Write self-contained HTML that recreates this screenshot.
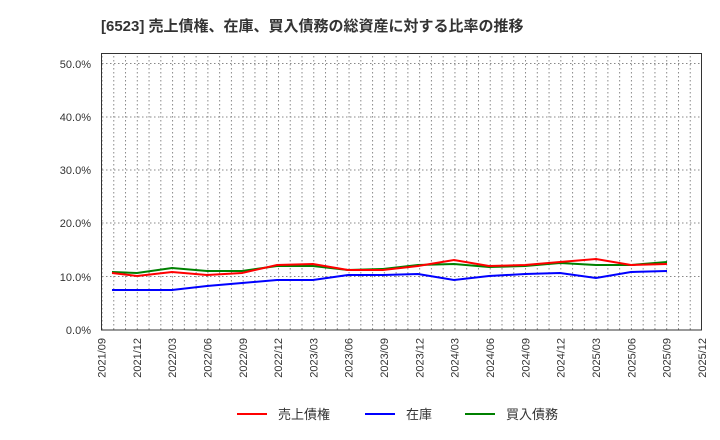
<!DOCTYPE html>
<html><head><meta charset="utf-8"><style>
body{margin:0;background:#fff;}
svg{display:block;font-family:"Liberation Sans","Noto Sans CJK JP",sans-serif;}
</style></head><body>
<svg width="720" height="440" xmlns="http://www.w3.org/2000/svg">
<rect width="720" height="440" fill="#fff"/>
<text x="101" y="31" font-size="15" font-weight="bold" fill="#333">[6523]  売上債権、在庫、買入債務の総資産に対する比率の推移</text>
<defs><pattern id="vg" x="101.5" y="0" width="11.7647" height="440" patternUnits="userSpaceOnUse"><line x1="0.5" y1="0" x2="0.5" y2="440" stroke="#888" stroke-width="1" stroke-dasharray="1.5,2.5"/></pattern></defs>
<rect x="102" y="54" width="599" height="276" fill="url(#vg)"/>
<g stroke="#888" stroke-width="1" stroke-dasharray="1.5,2.5">
<line x1="102" y1="63.5" x2="701" y2="63.5"/>
<line x1="102" y1="117" x2="701" y2="117"/>
<line x1="102" y1="170" x2="701" y2="170"/>
<line x1="102" y1="223" x2="701" y2="223"/>
<line x1="102" y1="276.5" x2="701" y2="276.5"/>
</g>
<rect x="101.5" y="53.5" width="600" height="276.5" fill="none" stroke="#333" stroke-width="1"/>
<g font-size="11" fill="#333" text-anchor="end">
<text x="91" y="334">0.0%</text>
<text x="91" y="281">10.0%</text>
<text x="91" y="227">20.0%</text>
<text x="91" y="174">30.0%</text>
<text x="91" y="121">40.0%</text>
<text x="91" y="68">50.0%</text>
</g>
<g font-size="11" fill="#333" text-anchor="end">
<text transform="translate(105.5,338) rotate(-90)">2021/09</text>
<text transform="translate(140.8,338) rotate(-90)">2021/12</text>
<text transform="translate(176.1,338) rotate(-90)">2022/03</text>
<text transform="translate(211.4,338) rotate(-90)">2022/06</text>
<text transform="translate(246.8,338) rotate(-90)">2022/09</text>
<text transform="translate(282.1,338) rotate(-90)">2022/12</text>
<text transform="translate(317.4,338) rotate(-90)">2023/03</text>
<text transform="translate(352.7,338) rotate(-90)">2023/06</text>
<text transform="translate(388.1,338) rotate(-90)">2023/09</text>
<text transform="translate(423.4,338) rotate(-90)">2023/12</text>
<text transform="translate(458.7,338) rotate(-90)">2024/03</text>
<text transform="translate(494,338) rotate(-90)">2024/06</text>
<text transform="translate(529.4,338) rotate(-90)">2024/09</text>
<text transform="translate(564.7,338) rotate(-90)">2024/12</text>
<text transform="translate(600,338) rotate(-90)">2025/03</text>
<text transform="translate(635.3,338) rotate(-90)">2025/06</text>
<text transform="translate(670.6,338) rotate(-90)">2025/09</text>
<text transform="translate(706,338) rotate(-90)">2025/12</text>
</g>
<polyline fill="none" stroke="#008000" stroke-width="2" points="112,272 137,273 172,268 207,271 242,271 277,266 313,266 348,270 383,269 418,265 454,264 489,267 525,266 560,263 596,265 631,265 667,262"/>
<polyline fill="none" stroke="#ff0000" stroke-width="2" points="112,273 137,276 172,272 207,275 242,273 277,265 313,264 348,270 383,270 418,266 454,260 489,266 525,265 560,262 596,259 631,265 667,264"/>
<polyline fill="none" stroke="#0000ff" stroke-width="2" points="112,290 137,290 172,290 207,286 242,283 277,280 313,280 348,275 383,275 418,274 454,280 489,276 525,274 560,273 596,278 631,272 667,271"/>
<g font-size="13" fill="#333">
<line x1="237" y1="414" x2="267" y2="414" stroke="#ff0000" stroke-width="2"/><text x="278" y="419">売上債権</text>
<line x1="365" y1="414" x2="395" y2="414" stroke="#0000ff" stroke-width="2"/><text x="406" y="419">在庫</text>
<line x1="465" y1="414" x2="495" y2="414" stroke="#008000" stroke-width="2"/><text x="506" y="419">買入債務</text>
</g>
</svg>
</body></html>
